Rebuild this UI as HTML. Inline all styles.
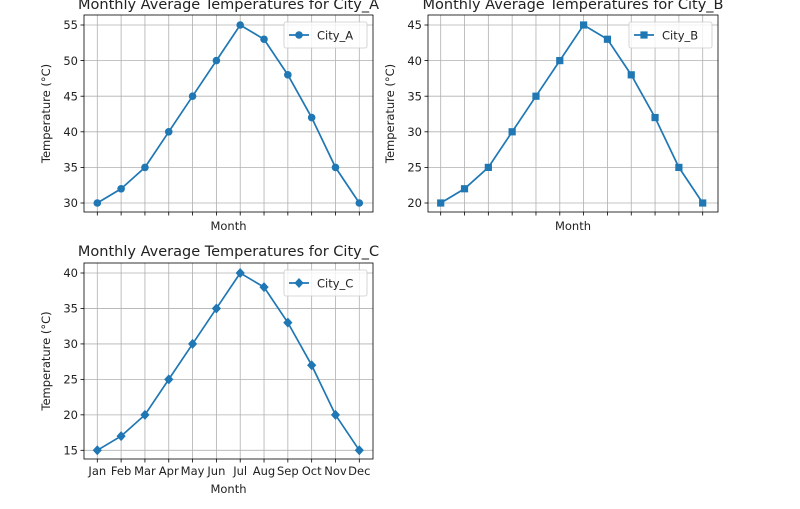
<!DOCTYPE html>
<html><head><meta charset="utf-8"><style>
html,body{margin:0;padding:0;background:#fff;}
svg{display:block;font-family:"DejaVu Sans","Liberation Sans",sans-serif;}
</style></head><body>
<svg id="s" width="800" height="509" viewBox="0 0 800 509" xmlns="http://www.w3.org/2000/svg"></svg>
<script>
const months=["Jan","Feb","Mar","Apr","May","Jun","Jul","Aug","Sep","Oct","Nov","Dec"];
const C='#1f77b4';
let out='';
function plot(o){
 const {L,R,T,B,x0,x1,yv0,yp0,yv1,yp1,data,ticks,name,marker,title,titleY,labels}=o;
 const xs=i=>x0+(x1-x0)*i/11;
 const ys=v=>yp0+(yp1-yp0)*(v-yv0)/(yv1-yv0);
 for(let i=0;i<12;i++) out+=`<line x1="${xs(i)}" x2="${xs(i)}" y1="${T}" y2="${B}" stroke="#b0b0b0" stroke-width="0.8"/>`;
 for(const t of ticks) out+=`<line x1="${L}" x2="${R}" y1="${ys(t)}" y2="${ys(t)}" stroke="#b0b0b0" stroke-width="0.8"/>`;
 for(let i=0;i<12;i++){out+=`<line x1="${xs(i)}" x2="${xs(i)}" y1="${B}" y2="${B+3.5}" stroke="#000" stroke-width="0.8"/>`;
  if(labels) out+=`<text x="${xs(i)}" y="${B+16}" font-size="11.5" text-anchor="middle" fill="#222">${months[i]}</text>`;}
 for(const t of ticks){out+=`<line x1="${L-3.5}" x2="${L}" y1="${ys(t)}" y2="${ys(t)}" stroke="#000" stroke-width="0.8"/>`;
  out+=`<text x="${L-6}" y="${ys(t)+4.2}" font-size="11.5" text-anchor="end" fill="#222">${t}</text>`;}
 out+=`<polyline fill="none" stroke="${C}" stroke-width="1.7" points="${data.map((v,i)=>xs(i)+','+ys(v)).join(' ')}"/>`;
 const mk=(x,y)=>marker=='o'?`<circle cx="${x}" cy="${y}" r="3.8" fill="${C}"/>`:marker=='s'?`<rect x="${x-3.6}" y="${y-3.6}" width="7.2" height="7.2" fill="${C}"/>`:`<polygon points="${x},${y-5} ${x+4.6},${y} ${x},${y+5} ${x-4.6},${y}" fill="${C}"/>`;
 data.forEach((v,i)=>out+=mk(xs(i),ys(v)));
 out+=`<rect x="${L}" y="${T}" width="${R-L}" height="${B-T}" fill="none" stroke="#000" stroke-width="0.8"/>`;
 const lx=R-89, ly=T+7;
 out+=`<rect x="${lx}" y="${ly}" width="83" height="26" rx="2" fill="#fff" fill-opacity="0.8" stroke="#ccc" stroke-width="0.8"/>`;
 out+=`<line x1="${lx+5}" x2="${lx+25}" y1="${ly+13}" y2="${ly+13}" stroke="${C}" stroke-width="1.7"/>`+mk(lx+15,ly+13);
 out+=`<text x="${lx+33}" y="${ly+17.5}" font-size="11.5" fill="#222">${name}</text>`;
 out+=`<text x="${(L+R)/2}" y="${labels?B+34:B+18}" font-size="11.5" text-anchor="middle" fill="#222">Month</text>`;
 out+=`<text transform="translate(${L-34},${(T+B)/2}) rotate(-90)" font-size="11.5" text-anchor="middle" fill="#222">Temperature (°C)</text>`;
 out+=`<text x="${(L+R)/2}" y="${titleY}" font-size="14.5" text-anchor="middle" fill="#222">${title}</text>`;
}
plot({L:84,R:373,T:15,B:212,x0:97.3,x1:359.3,yv0:55,yp0:25,yv1:30,yp1:203,data:[30,32,35,40,45,50,55,53,48,42,35,30],ticks:[30,35,40,45,50,55],name:'City_A',marker:'o',title:'Monthly Average Temperatures for City_A',titleY:9,labels:false});
plot({L:428,R:718,T:15,B:212,x0:440.7,x1:702.7,yv0:45,yp0:25,yv1:20,yp1:203,data:[20,22,25,30,35,40,45,43,38,32,25,20],ticks:[20,25,30,35,40,45],name:'City_B',marker:'s',title:'Monthly Average Temperatures for City_B',titleY:9,labels:false});
plot({L:84,R:373,T:263,B:459,x0:97.3,x1:359.3,yv0:40,yp0:273,yv1:15,yp1:450.3,data:[15,17,20,25,30,35,40,38,33,27,20,15],ticks:[15,20,25,30,35,40],name:'City_C',marker:'d',title:'Monthly Average Temperatures for City_C',titleY:256,labels:true});
document.getElementById('s').innerHTML=out;
</script>
</body></html>
